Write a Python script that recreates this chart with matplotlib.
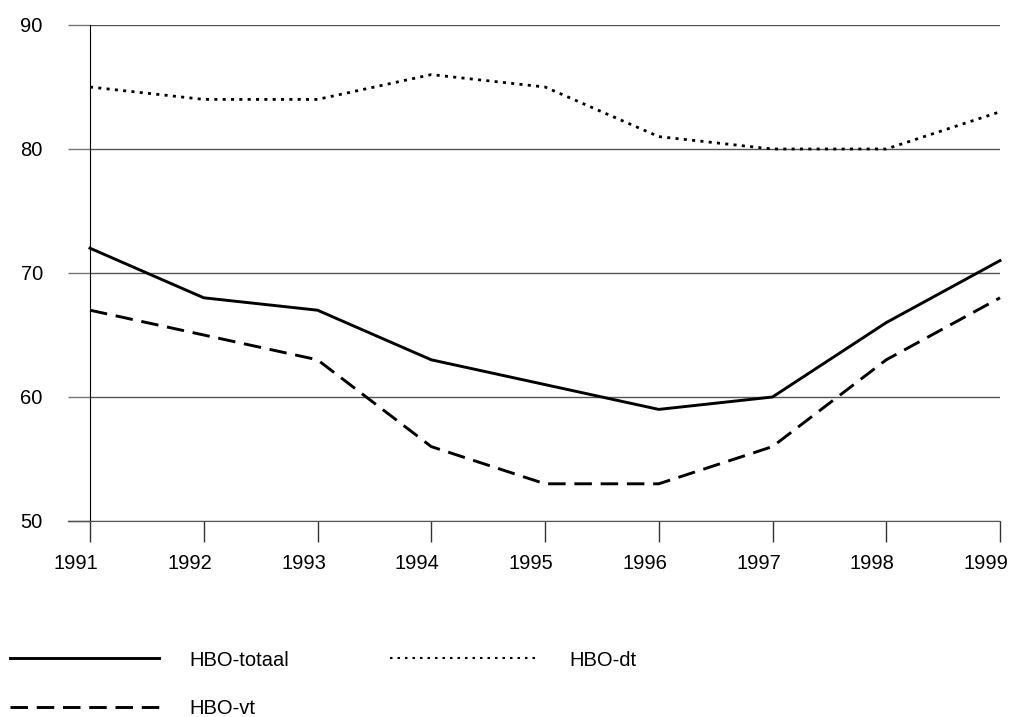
import matplotlib.pyplot as plt
import matplotlib.transforms as mtransforms
from matplotlib.lines import Line2D

plt.rcParams['font.family'] = ['Liberation Sans', 'DejaVu Sans']

years = [1991, 1992, 1993, 1994, 1995, 1996, 1997, 1998, 1999]
hbo_totaal = [72, 68, 67, 63, 61, 59, 60, 66, 71]
hbo_vt = [67, 65, 63, 56, 53, 53, 56, 63, 68]
hbo_dt = [85, 84, 84, 86, 85, 81, 80, 80, 83]
y_ticks = [50, 60, 70, 80, 90]

fig = plt.figure(figsize=(10.11, 7.17), dpi=100)
ax = fig.add_axes([90 / 1011, 1 - 521 / 717, 910 / 1011, 496 / 717])

ax.plot(years, hbo_totaal, color="black", lw=2.1, label="HBO-totaal", clip_on=False)
ax.plot(years, hbo_vt, color="black", lw=2.1, dashes=(6, 3), label="HBO-vt", clip_on=False)
ax.plot(years, hbo_dt, color="black", lw=2, dashes=(1.1, 1.9), label="HBO-dt", clip_on=False)

ax.set_xlim(1991, 1999)
ax.set_ylim(50, 90)
ax.set_xticks(years)
ax.set_yticks(y_ticks)
ax.yaxis.grid(True, color="#555555", lw=1)
ax.set_axisbelow(True)

for s in ["top", "right"]:
    ax.spines[s].set_visible(False)
ax.spines["left"].set_bounds(50, 90)
ax.spines["left"].set_color("black")
ax.spines["bottom"].set_color("#555555")

ax.tick_params(axis="y", length=16, width=1, color="#777777", pad=18, labelsize=14.5)
ax.tick_params(axis="x", length=15, width=1, color="#333333", pad=9, labelsize=14.5)
# x labels sit a bit left of their ticks in the original
shift = mtransforms.ScaledTranslation(-14 / 100, 0, fig.dpi_scale_trans)
for lab in ax.get_xticklabels():
    lab.set_transform(lab.get_transform() + shift)
# extend bottom line to the left like the y ticks
ax.plot([1991 - 22 / 113.75, 1991], [50, 50], color="#555555", lw=1, clip_on=False)

handles = [
    Line2D([], [], color="black", lw=2.1),
    Line2D([], [], color="black", lw=2.1, dashes=(6, 3)),
    Line2D([], [], color="black", lw=1.5, dashes=(1.2, 2.4)),
]
fig.legend(handles, ["HBO-totaal", "HBO-vt", "HBO-dt"], ncol=2,
           loc="upper left", bbox_to_anchor=(-8 / 1011, 0.118), frameon=False,
           fontsize=14.5, handlelength=7.4, handletextpad=1.5,
           columnspacing=5.0, labelspacing=1.45)

fig.savefig("out.png", dpi=100)
